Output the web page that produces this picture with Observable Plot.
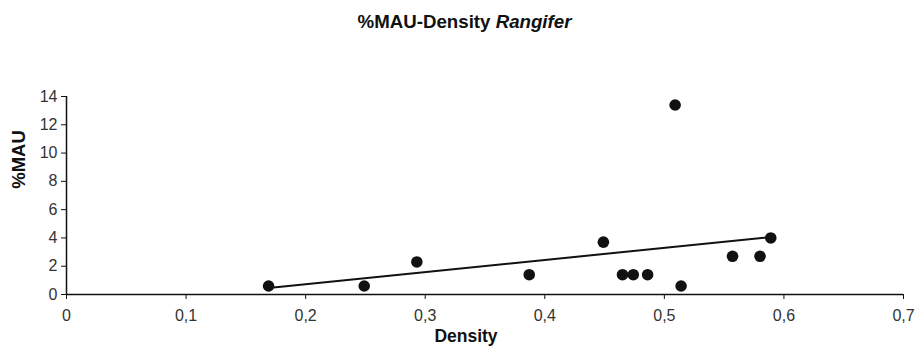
<!DOCTYPE html>
<html>
<head>
<meta charset="utf-8">
<script src="https://cdn.jsdelivr.net/npm/d3@7"></script>
<script src="https://cdn.jsdelivr.net/npm/@observablehq/plot@0.6"></script>
<style>
  html, body { margin: 0; padding: 0; background: #fff; }
  body { width: 921px; height: 350px; overflow: hidden; font-family: "Liberation Sans", Arial, sans-serif; }
  #title {
    height: 40px; box-sizing: border-box; padding-top: 12px; padding-left: 8px;
    text-align: center; font-size: 18.7px; line-height: 20px; font-weight: bold; color: #111;
  }
  #title i { font-style: italic; }
  #chart svg { display: block; }
</style>
</head>
<body>
<div id="title">%MAU-Density <i>Rangifer</i></div>
<div id="chart"></div>
<script>
// Bone density against %MAU for Rangifer elements
const density = [0.169, 0.249, 0.293, 0.387, 0.449, 0.465, 0.474, 0.486, 0.509, 0.514, 0.557, 0.580, 0.589];
const mau     = [0.6,   0.6,   2.3,   1.4,   3.7,   1.4,   1.4,   1.4,   13.4,  0.6,   2.7,   2.7,   4.0];

const xTicks = [0, 0.1, 0.2, 0.3, 0.4, 0.5, 0.6, 0.7];
const yTicks = [0, 2, 4, 6, 8, 10, 12, 14];

const xTitle = "Density";
const yTitle = "%MAU";

const rows = density.map((d, i) => ({density: d, mau: mau[i]}));
const comma = d => String(d).replace(".", ",");

const chart = Plot.plot({
  width: 921,
  height: 310,
  marginTop: 56,
  marginBottom: 56,
  marginLeft: 66,
  marginRight: 18,
  style: {fontFamily: "'Liberation Sans', Arial, sans-serif", fontSize: "16px", color: "#222", background: "#fff"},
  x: {domain: [0, 0.7]},
  y: {domain: [0, 14]},
  marks: [
    Plot.axisX({ticks: xTicks, tickFormat: comma, tickSize: 5, tickPadding: 10, label: null, stroke: "#111", fill: "#333"}),
    Plot.axisY({ticks: yTicks, tickSize: 5, tickPadding: 4, label: null, stroke: "#111", fill: "#333"}),
    Plot.ruleY([0], {stroke: "#111", strokeWidth: 1.5}),
    Plot.ruleX([0], {stroke: "#111", strokeWidth: 1.5}),
    Plot.linearRegressionY(rows, {x: "density", y: "mau", stroke: "#111", strokeWidth: 2, ci: 0}),
    Plot.dot(rows, {x: "density", y: "mau", r: 5.8, fill: "#111", stroke: "none"}),
    Plot.text([xTitle], {frameAnchor: "bottom", dx: -19, dy: 47.4, fontSize: 17.5, fontWeight: "bold", fill: "#111"}),
    Plot.text([yTitle], {frameAnchor: "left", dx: -47, dy: -6.75, rotate: -90, fontSize: 18.5, fontWeight: "bold", fill: "#111"})
  ]
});
document.getElementById("chart").appendChild(chart);
</script>
</body>
</html>
